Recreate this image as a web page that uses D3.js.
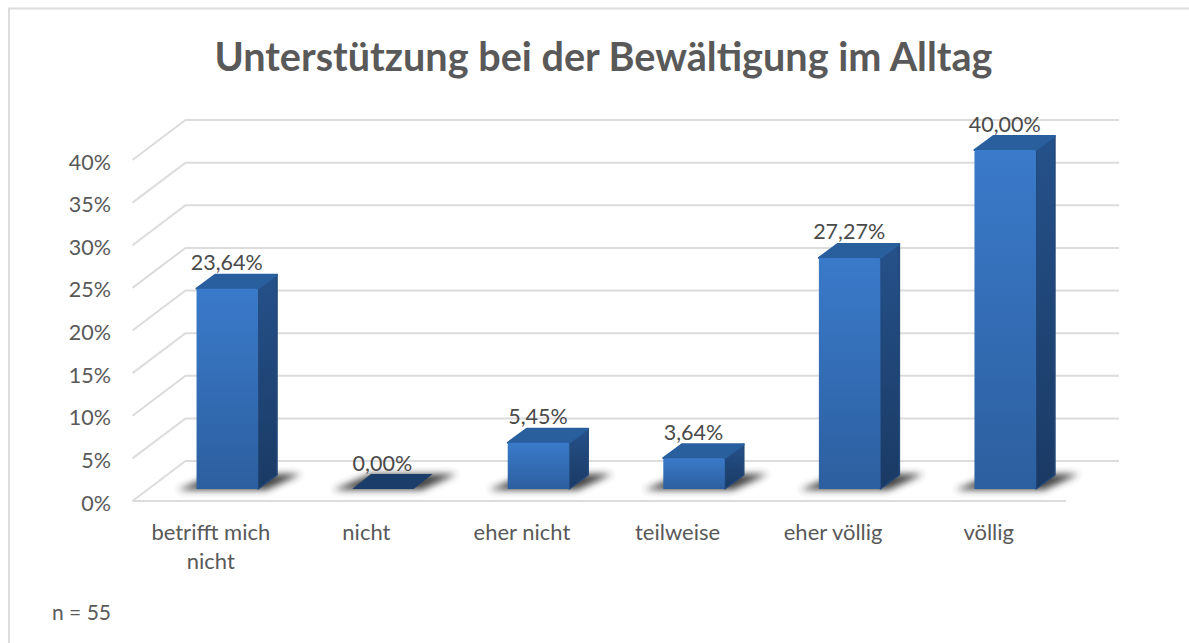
<!DOCTYPE html>
<html><head><meta charset="utf-8">
<script src="https://cdn.jsdelivr.net/npm/d3@7/dist/d3.min.js"></script>
<style>html,body{margin:0;padding:0;background:#fff}svg{display:block}text{font-family:Lato,"Open Sans",sans-serif;fill:#4a4a4a}</style>
</head><body><svg id="c" width="1189" height="643"></svg>
<script>
const titleText = "Unterstützung bei der Bewältigung im Alltag";
const categories = [["betrifft mich","nicht"],["nicht"],["eher nicht"],["teilweise"],["eher völlig"],["völlig"]];
const values = [23.64, 0, 5.45, 3.64, 27.27, 40];
const valueLabels = ["23,64%","0,00%","5,45%","3,64%","27,27%","40,00%"];
const yTicks = [0,5,10,15,20,25,30,35,40];
const noteText = "n = 55";

const svg = d3.select("#c");
const defs = svg.append("defs");
const wallDX = 53, wallDY = -40, barDX = 19, barDY = -14;
const x = d3.scaleBand().domain(d3.range(categories.length)).range([132.5, 1066]);
const y = d3.scaleLinear().domain([0,40]).range([501,160]);
const barH = d3.scaleLinear().domain([0,40]).range([0,339]);
const barBase = 489, barW = 61.5, barShift = 17;

function grad(id, c0, c1){
  const g = defs.append("linearGradient").attr("id",id).attr("x1",0).attr("y1",0).attr("x2",0).attr("y2",1);
  g.append("stop").attr("offset",0).attr("stop-color",c0);
  g.append("stop").attr("offset",1).attr("stop-color",c1);
}
grad("front","#3a7aca","#2c5f9f");
grad("side","#25518a","#1a3a64");
const blur = defs.append("filter").attr("id","soft").attr("x","-40%").attr("y","-120%").attr("width","180%").attr("height","340%");
blur.append("feGaussianBlur").attr("stdDeviation",3.5);

svg.append("rect").attr("x",9).attr("y",8.5).attr("width",1300).attr("height",800).attr("fill","#fff").attr("stroke","#dcdcdc").attr("stroke-width",2);

const grid = svg.append("g").attr("fill","none").attr("stroke","#dcdcdc").attr("stroke-width",2);
yTicks.forEach(t=>{
  const py = y(t);
  grid.append("path").attr("d",`M132.5,${py}L${132.5+wallDX},${py+wallDY}L${1066+wallDX},${py+wallDY}`);
});
grid.append("line").attr("x1",132.5).attr("x2",1066).attr("y1",y(0)).attr("y2",y(0));

svg.append("g").selectAll("text").data(yTicks).join("text")
  .attr("x",111).attr("y",t=>y(t)+2).attr("dy","0.35em").attr("text-anchor","end")
  .attr("font-size",21.5).style("fill","#595959").text(t=>t+"%");

const xG = svg.append("g");
categories.forEach((lines,i)=>{
  lines.forEach((s,k)=>{
    xG.append("text").attr("x",x(i)+x.bandwidth()/2+0.5).attr("y",540+k*29)
      .attr("text-anchor","middle").attr("font-size",22).style("fill","#595959").text(s);
  });
});

const bars = svg.append("g");
values.forEach((v,i)=>{
  const x0 = x(i)+x.bandwidth()/2 - barW/2 + barShift, x1 = x0+barW;
  const top = barBase - barH(v);
  bars.append("path").attr("filter","url(#soft)").attr("fill","#333").attr("opacity",.9)
    .attr("d",`M${x0-19},${barBase+1}L${x0+barDX},${barBase+barDY-1}L${x1+barDX+24},${barBase+barDY-1}L${x1+8},${barBase+1}Z`);
  if(v>0){
    bars.append("path").attr("fill","url(#side)").attr("stroke","#23487a").attr("stroke-width",1.5).attr("stroke-linejoin","round")
      .attr("d",`M${x1},${barBase}L${x1},${top}L${x1+barDX},${top+barDY}L${x1+barDX},${barBase+barDY}Z`);
    bars.append("path").attr("fill","#2a5f9e").attr("stroke","#2a5f9e").attr("stroke-width",2).attr("stroke-linejoin","round")
      .attr("d",`M${x0},${top}L${x0+barDX},${top+barDY}L${x1+barDX},${top+barDY}L${x1},${top}Z`);
    bars.append("path").attr("fill","url(#front)")
      .attr("d",`M${x0},${barBase}V${top+2}Q${x0},${top} ${x0+2},${top}H${x1-2}Q${x1},${top} ${x1},${top+2}V${barBase}Z`);
  } else {
    bars.append("path").attr("fill","#1b3d69")
      .attr("d",`M${x0},${top}L${x0+barDX},${top+barDY-1}L${x1+barDX},${top+barDY-1}L${x1},${top}Z`);
  }
  svg.append("text").attr("x",x(i)+x.bandwidth()/2+barShift-0.5).attr("y",top+barDY-4.5)
    .attr("text-anchor","middle").attr("font-size",21.5).text(valueLabels[i]);
});

svg.append("text").attr("x",603.5).attr("y",71).attr("text-anchor","middle")
  .attr("font-size",39.6).attr("font-weight",700).style("fill","#595959").text(titleText);
svg.append("text").attr("x",52).attr("y",620).attr("font-size",21).style("fill","#595959").text(noteText);
</script></body></html>
